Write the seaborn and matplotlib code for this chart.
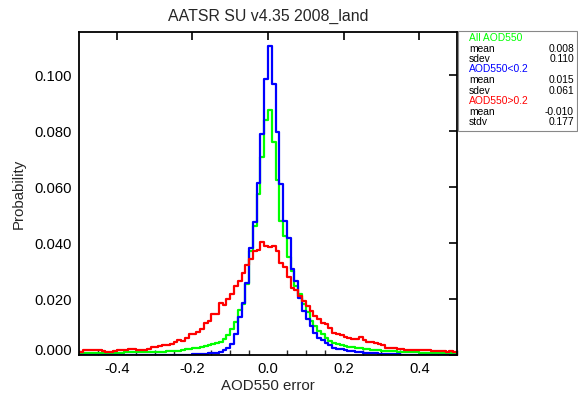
import numpy as np
import pandas as pd
import matplotlib
matplotlib.use("Agg")
import matplotlib.pyplot as plt
from matplotlib.patches import Rectangle
from matplotlib.ticker import MultipleLocator
import seaborn as sns

# ---------------- data (probability per 0.01 bin, AOD550 error) ----------------
bin_left = np.round(np.arange(-0.50, 0.50, 0.01), 2)   # 100 bins of width 0.01

all_aod = [
    0.0008, 0.0008, 0.0008, 0.0008, 0.0008, 0.0008, 0.0008, 0.0008, 0.0008, 0.0008,
    0.0008, 0.0008, 0.0009, 0.0009, 0.0009, 0.0009, 0.0009, 0.0010, 0.0010, 0.0010,
    0.0010, 0.0011, 0.0012, 0.0013, 0.0014, 0.0015, 0.0016, 0.0018, 0.0020, 0.0023,
    0.0025, 0.0026, 0.0028, 0.0031, 0.0035, 0.0038, 0.0042, 0.0048, 0.0056, 0.0072,
    0.0093, 0.0119, 0.0160, 0.0184, 0.0253, 0.0373, 0.0462, 0.0576, 0.0707, 0.0841,
    0.0875, 0.0761, 0.0624, 0.0480, 0.0427, 0.0349, 0.0299, 0.0247, 0.0217, 0.0182,
    0.0152, 0.0122, 0.0104, 0.0086, 0.0076, 0.0062, 0.0050, 0.0044, 0.0040, 0.0036,
    0.0032, 0.0030, 0.0029, 0.0026, 0.0024, 0.0022, 0.0020, 0.0019, 0.0018, 0.0017,
    0.0016, 0.0015, 0.0014, 0.0013, 0.0012, 0.0011, 0.0010, 0.0010, 0.0009, 0.0009,
    0.0008, 0.0008, 0.0008, 0.0008, 0.0007, 0.0007, 0.0007, 0.0007, 0.0007, 0.0007,
]

low_aod = [
    0, 0, 0, 0, 0, 0, 0, 0, 0, 0,
    0, 0, 0, 0, 0, 0, 0, 0, 0, 0,
    0, 0, 0, 0, 0, 0, 0, 0, 0, 0,
    0.0003, 0.0004, 0.0005, 0.0005, 0.0006, 0.0007, 0.0008, 0.0011, 0.0017, 0.0026,
    0.0041, 0.0076, 0.0137, 0.0187, 0.0259, 0.0382, 0.0474, 0.0614, 0.0791, 0.0986,
    0.1105, 0.0970, 0.0797, 0.0612, 0.0480, 0.0418, 0.0307, 0.0263, 0.0205, 0.0158,
    0.0128, 0.0104, 0.0080, 0.0062, 0.0053, 0.0044, 0.0036, 0.0026, 0.0022, 0.0020,
    0.0017, 0.0014, 0.0013, 0.0011, 0.0010, 0.0008, 0.0008, 0.0007, 0.0006, 0.0005,
    0.0005, 0.0004, 0.0003, 0.0002, 0.0002, 0.0001, 0, 0, 0, 0,
    0, 0, 0, 0, 0, 0, 0, 0, 0, 0,
]

high_aod = [
    0.0012, 0.0018, 0.0018, 0.0018, 0.0018, 0.0017, 0.0015, 0.0012, 0.0012, 0.0013,
    0.0018, 0.0018, 0.0018, 0.0023, 0.0023, 0.0018, 0.0018, 0.0018, 0.0020, 0.0029,
    0.0029, 0.0032, 0.0034, 0.0036, 0.0040, 0.0045, 0.0053, 0.0050, 0.0062, 0.0074,
    0.0074, 0.0081, 0.0092, 0.0116, 0.0122, 0.0146, 0.0146, 0.0187, 0.0179, 0.0200,
    0.0217, 0.0247, 0.0265, 0.0295, 0.0323, 0.0343, 0.0373, 0.0375, 0.0403, 0.0390,
    0.0385, 0.0390, 0.0373, 0.0330, 0.0315, 0.0280, 0.0241, 0.0231, 0.0211, 0.0194,
    0.0176, 0.0158, 0.0140, 0.0128, 0.0116, 0.0110, 0.0098, 0.0080, 0.0074, 0.0072,
    0.0065, 0.0062, 0.0058, 0.0056, 0.0065, 0.0053, 0.0048, 0.0048, 0.0044, 0.0040,
    0.0036, 0.0026, 0.0026, 0.0026, 0.0020, 0.0020, 0.0017, 0.0017, 0.0017, 0.0017,
    0.0017, 0.0017, 0.0017, 0.0015, 0.0015, 0.0015, 0.0015, 0.0010, 0.0014, 0.0012,
]

series_names = ["All AOD550", "AOD550<0.2", "AOD550>0.2"]
series_colors = ["#00ff00", "#0000ff", "#ff0000"]
stat_labels = [["mean", "sdev"], ["mean", "sdev"], ["mean", "stdv"]]
stat_values = [["0.008", "0.110"], ["0.015", "0.061"], ["-0.010", "0.177"]]
title = "AATSR SU v4.35 2008_land"
xlabel = "AOD550 error"
ylabel = "Probability"
xticks = [-0.4, -0.2, 0.0, 0.2, 0.4]
yticks = [0.000, 0.020, 0.040, 0.060, 0.080, 0.100]

# ---------------- figure ----------------
sns.set_theme(style="white")
plt.rcParams["font.family"] = ["Liberation Sans", "DejaVu Sans"]

W, H = 578, 399
fig = plt.figure(figsize=(W / 100, H / 100), dpi=100)
fig.patch.set_facecolor("white")
L, R, T, B = 79, 457, 32, 355
ax = fig.add_axes([L / W, 1 - B / H, (R - L) / W, (B - T) / H])
ax.set_facecolor("white")

bin_edges = [round(float(v), 2) for v in np.append(bin_left, bin_left[-1] + 0.01)]
centers = bin_left + 0.005
df = pd.DataFrame({
    "x": np.concatenate([centers] * 3),
    "p": np.concatenate([all_aod, low_aod, high_aod]),
    "series": np.repeat(series_names, len(bin_left)),
})
for name, color in zip(series_names, series_colors):
    sub = df[df["series"] == name]
    sns.histplot(data=sub, x="x", weights="p", bins=bin_edges, element="step",
                 fill=False, color=color, linewidth=1.6, ax=ax, stat="count")

ax.set_xlim(-0.5, 0.5)
ax.set_ylim(0, 0.1155)
ax.set_xticks(xticks)
ax.set_xticklabels([f"{t:.1f}" for t in xticks])
ax.xaxis.set_minor_locator(MultipleLocator(0.05))
ax.set_yticks(yticks)
ax.set_yticklabels([f"{t:.3f}" for t in yticks])
for s in ax.spines.values():
    s.set_visible(True)
    s.set_color("black")
    s.set_linewidth(1.3)
ax.tick_params(axis="both", which="major", direction="in", length=6, width=1.2,
               colors="black", labelsize=10.6, top=True, right=True, pad=5)
ax.tick_params(axis="x", which="minor", direction="in", length=3.5, width=1.0,
               bottom=True, top=False)
ax.tick_params(axis="y", which="minor", left=False, right=False)
ax.yaxis.get_ticklabels()[0].set_verticalalignment("baseline")

ax.set_xlabel(xlabel, fontsize=10.8, labelpad=2)
ax.set_ylabel(ylabel, fontsize=10.8, labelpad=6)
ax.set_title(title, fontsize=11.4, pad=8)

# ---------------- stats box ----------------
def fx(px):
    return px / W

def fy(py):
    return 1 - py / H

box = Rectangle((fx(458), fy(131)), fx(576.5) - fx(458), fy(31) - fy(131),
                transform=fig.transFigure, fill=False, edgecolor="#888888",
                linewidth=0.8)
fig.patches.append(box)

ys = [38.3, 49.3, 59.2, 69.5, 80.0, 90.5, 101.0, 112.0, 122.3]
i = 0
for name, color, labs, vals in zip(series_names, series_colors, stat_labels, stat_values):
    fig.text(fx(469), fy(ys[i]), name, color=color, fontsize=7.4,
             ha="left", va="center")
    i += 1
    for lab, val in zip(labs, vals):
        fig.text(fx(469), fy(ys[i]), lab, color="black", fontsize=7.4,
                 ha="left", va="center")
        fig.text(fx(574), fy(ys[i]), val, color="black", fontsize=7.4,
                 ha="right", va="center")
        i += 1

fig.savefig("out.png", dpi=100, facecolor="white")
